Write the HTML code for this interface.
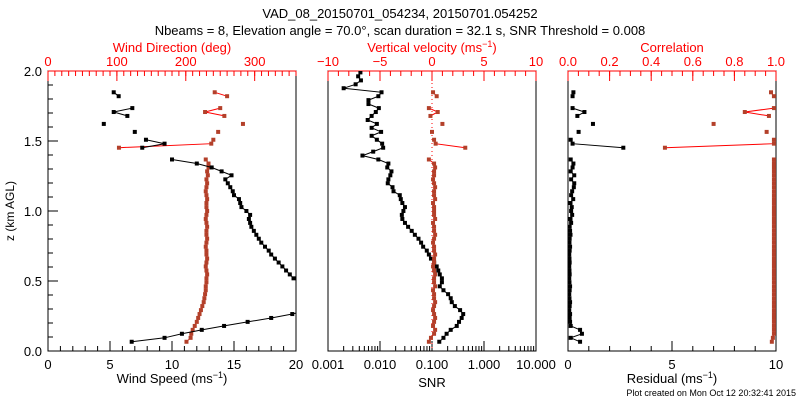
<!DOCTYPE html>
<html><head><meta charset="utf-8">
<style>
body{margin:0;background:#fff;}
svg{display:block;font-family:"Liberation Sans",sans-serif;}
</style></head>
<body>
<svg id="chart" width="800" height="400" viewBox="0 0 800 400" xmlns="http://www.w3.org/2000/svg">
<defs>
<clipPath id="c1"><rect x="48" y="71" width="248" height="280"/></clipPath>
<clipPath id="c2"><rect x="328" y="71" width="208" height="280"/></clipPath>
<clipPath id="c3"><rect x="568" y="71" width="208" height="280"/></clipPath>
</defs>
<text x="400" y="18" font-size="13" text-anchor="middle">VAD_08_20150701_054234, 20150701.054252</text>
<text x="400" y="35" font-size="13" text-anchor="middle">Nbeams = 8, Elevation angle = 70.0°, scan duration = 32.1 s, SNR Threshold = 0.008</text>
<text transform="translate(14,211) rotate(-90)" font-size="12" text-anchor="middle">z (km AGL)</text>
<text x="796" y="396" font-size="9" text-anchor="end">Plot created on Mon Oct 12 20:32:41 2015</text>
<g id="layer"></g>
</svg>
<script>
const heights=[0.066,0.094,0.123,0.151,0.179,0.208,0.236,0.264,0.292,0.321,0.349,0.377,0.406,0.434,0.462,0.491,0.519,0.547,0.575,0.604,0.632,0.660,0.689,0.717,0.745,0.774,0.802,0.830,0.858,0.887,0.915,0.943,0.972,1.000,1.028,1.057,1.085,1.113,1.141,1.170,1.198,1.226,1.255,1.283,1.311,1.339,1.368,1.396,1.424,1.452,1.481,1.509,1.537,1.565,1.594,1.622,1.650,1.679,1.707,1.735,1.764,1.792,1.820,1.848,1.877,1.905,1.933,1.962,1.990];
const N=null;
const windSpeed=[6.75,9.4,10.8,12.4,14.2,16.1,18.0,19.7,21,22,23,23.5,23.5,23,22,21,19.8,19.5,19.2,18.9,18.6,18.3,18.0,17.8,17.5,17.2,17.0,16.8,16.6,16.4,16.3,16.2,16.3,16.0,15.6,15.5,15.4,15.0,14.9,14.7,14.5,14.3,14.8,14.0,13.2,12.0,10.0,N,N,7.6,9.4,7.9,N,7.0,N,4.5,N,6.4,5.3,6.8,N,N,5.7,5.3,N,N,N,N,N];
const windDir=[201,207,208,210,213,216,218,220,222,224,226,227,228,229,229,230,230,231,230,229,230,231,230,230,229,230,231,230,230,231,230,229,230,231,230,230,231,230,229,230,231,230,232,231,233,233,229,N,N,103,237,240,N,247,N,283,N,256,228,250,N,N,260,242,N,N,N,N,N];
const snr=[0.138,0.166,0.191,0.229,0.299,0.331,0.372,0.398,0.347,0.275,0.240,0.229,0.204,0.166,0.141,0.155,0.155,0.141,0.132,0.123,0.110,0.0955,0.0871,0.0794,0.0676,0.0617,0.0550,0.0468,0.0407,0.0347,0.0302,0.0269,0.0263,0.0282,0.0302,0.0269,0.0251,0.0240,0.0182,0.0174,0.0141,0.0145,0.0158,0.0166,0.0138,0.0145,0.0093,0.0046,0.0074,0.0115,0.0110,0.0087,0.0069,0.0105,0.0069,0.0087,0.0058,0.0069,0.0083,0.0095,0.0060,0.0060,0.0093,0.0107,0.0020,0.0034,0.0043,0.0038,0.0042];
const wVel=[-0.3,-0.1,0.2,0.3,0.1,0.2,0.3,0.2,0.1,0.2,0.3,0.2,0.2,0.1,0.3,0.2,0.2,0.3,0.2,0.1,0.2,0.2,0.3,0.2,0.2,0.1,0.2,0.3,0.2,0.2,0.1,0.3,0.2,0.2,0.2,0.1,0.3,0.2,0.2,0.3,0.2,0.1,0.2,0.2,0.3,0.2,-0.3,N,N,3.2,0.35,0.2,N,0.0,N,1.0,N,-0.15,0.55,-0.3,N,N,0.45,0.1,N,N,N,N,N];
const residual=[0.58,0.13,0.67,0.58,0.13,0.1,0.08,0.1,0.06,0.08,0.1,0.07,0.06,0.08,0.1,0.07,0.06,0.08,0.07,0.06,0.08,0.07,0.06,0.08,0.1,0.07,0.08,0.12,0.1,0.08,0.15,0.12,0.2,0.15,0.18,0.12,0.25,0.15,0.2,0.28,0.3,0.15,0.3,0.13,0.22,0.26,0.13,N,N,2.66,0.22,0.13,N,0.51,N,1.2,N,0.45,0.79,0.22,N,N,0.22,0.26,N,N,N,N,N];
const correlation=[0.98,0.985,0.99,0.99,0.99,0.99,0.99,0.99,0.99,0.99,0.99,0.99,0.99,0.99,0.99,0.99,0.99,0.99,0.99,0.99,0.99,0.99,0.99,0.99,0.99,0.99,0.99,0.99,0.99,0.99,0.99,0.99,0.99,0.99,0.99,0.99,0.99,0.99,0.99,0.99,0.99,0.99,0.99,0.99,0.99,0.99,0.99,N,N,0.466,0.99,0.99,N,0.955,N,0.70,N,0.966,0.85,0.99,N,N,0.99,0.976,N,N,N,N,N];
const yTicks=["0.0","0.5","1.0","1.5","2.0"];

const NS="http://www.w3.org/2000/svg";
const layer=document.getElementById('layer');
const Y0=351,Y1=71;
function yS(z){return Y0-(z/2)*(Y0-Y1);}
function el(tag,attrs,parent){const e=document.createElementNS(NS,tag);for(const k in attrs)e.setAttribute(k,attrs[k]);(parent||layer).appendChild(e);return e;}

function frame(x0,x1,name){
  const r=el('rect',{x:x0,y:Y1,width:x1-x0,height:Y0-Y1,fill:'none',stroke:'#000','stroke-width':1});
  
  
}
function axisTicks(x0,x1,min,max,minorStep,majors,labels,side,color,scaleFn,name){
  const g=el('g',{});
  
  
  const y=side==='top'?Y1:Y0, dir=side==='top'?1:-1;
  if(side==='top')el('line',{x1:x0,x2:x1,y1:Y1,y2:Y1,stroke:color},g);
  for(let v=min;v<=max+1e-9;v+=minorStep){
    const x=scaleFn(v);
    el('line',{x1:x,x2:x,y1:y,y2:y+dir*5,stroke:color},g);
  }
  majors.forEach((v,i)=>{
    const x=scaleFn(v);
    el('line',{x1:x,x2:x,y1:y,y2:y+dir*10,stroke:color},g);
    const t=el('text',{x:x,y:side==='top'?Y1-5:Y0+18,'font-size':13,'text-anchor':'middle',fill:color},g);
    t.textContent=labels[i];
  });
}
function series(xs,vals,xFn,lineColor,markColor,clip,name){
  const g=el('g',{'clip-path':'url(#'+clip+')'});
  
  
  let seg=[];
  const flush=()=>{if(seg.length>1)el('polyline',{points:seg.join(' '),fill:'none',stroke:lineColor,'stroke-width':1},g);seg=[];};
  vals.forEach((v,i)=>{
    if(v===null){flush();return;}
    seg.push(xFn(v).toFixed(1)+','+yS(heights[i]).toFixed(1));
  });
  flush();
  vals.forEach((v,i)=>{
    if(v===null)return;
    const m=el('rect',{x:xFn(v)-2,y:yS(heights[i])-2,width:4,height:4,fill:markColor},g);
    
    
  });
}
const RED='#ff0000',BROWN='#b3402a';

// Panel 1
const sp=v=>48+v/20*248, dr=v=>48+v/360*248;
frame(48,296,'wind-panel');
// y axis ticks
(function(){
  const g=el('g',{});
  
  
  for(let k=0;k<=20;k++){const y=yS(k/10);el('line',{x1:48,x2:48+(k%5===0?10:5),y1:y,y2:y,stroke:'#000'},g);}
  yTicks.forEach(s=>{const t=el('text',{x:42,y:yS(parseFloat(s))+5,'font-size':13,'text-anchor':'end'},g);t.textContent=s;});
})();
axisTicks(48,296,0,20,1,[0,5,10,15,20],['0','5','10','15','20'],'bottom','#000',sp,'wind-speed-axis');
axisTicks(48,296,0,360,10,[0,100,200,300],['0','100','200','300'],'top',RED,dr,'wind-direction-axis');
series(heights,windDir,dr,RED,BROWN,'c1','wind-direction-series');
series(heights,windSpeed,sp,'#000','#000','c1','wind-speed-series');

// Panel 2
const sn=v=>328+(Math.log10(v)+3)*52, wv=v=>432+v*10.4;
frame(328,536,'snr-panel');
(function(){
  const g=el('g',{});
  
  
  for(let d=-3;d<1;d++)for(let m=2;m<=9;m++){const x=sn(m*Math.pow(10,d));el('line',{x1:x,x2:x,y1:Y0,y2:Y0-5,stroke:'#000'},g);}
  ['0.001','0.010','0.100','1.000','10.000'].forEach(s=>{const x=sn(parseFloat(s));el('line',{x1:x,x2:x,y1:Y0,y2:Y0-10,stroke:'#000'},g);const t=el('text',{x:x,y:Y0+18,'font-size':13,'text-anchor':'middle'},g);t.textContent=s;});
})();
axisTicks(328,536,-10,10,1,[-10,-5,0,5,10],['\u221210','\u22125','0','5','10'],'top',RED,wv,'vertical-velocity-axis');
el('line',{x1:432,x2:432,y1:Y1,y2:Y0,stroke:RED,'stroke-dasharray':'1,3'});
series(heights,snr,sn,'#000','#000','c2','snr-series');
series(heights,wVel,wv,RED,BROWN,'c2','vertical-velocity-series');

// Panel 3
const rs=v=>568+v*20.8, cr=v=>568+v*208;
frame(568,776,'residual-panel');
axisTicks(568,776,0,10,1,[0,5,10],['0','5','10'],'bottom','#000',rs,'residual-axis');
axisTicks(568,776,0,1,0.05,[0,0.2,0.4,0.6,0.8,1.0],['0.0','0.2','0.4','0.6','0.8','1.0'],'top',RED,cr,'correlation-axis');
series(heights,residual,rs,'#000','#000','c3','residual-series');
series(heights,correlation,cr,RED,BROWN,'c3','correlation-series');

// axis titles
[[172,48,'Wind Direction (deg)',RED,'wind-direction-title'],[672,48,'Correlation',RED,'correlation-title'],[432,383,'SNR','#000','snr-title']].forEach(a=>{
  const t=el('text',{x:a[0],y:a[1]+4,'font-size':13,'text-anchor':'middle',fill:a[3]});
  
  
  t.textContent=a[2];
});
function unitTitle(x,y,label,color,name){
  const t=el('text',{x:x,y:y+4,'font-size':13,'text-anchor':'middle',fill:color});
  
  
  t.appendChild(document.createTextNode(label+' (ms'));
  const s=el('tspan',{'font-size':9,dy:-5},t);s.textContent='\u22121';
  const e=el('tspan',{dy:5},t);e.textContent=')';
}
unitTitle(172,379,'Wind Speed','#000','wind-speed-title');
unitTitle(432,48,'Vertical velocity',RED,'vertical-velocity-title');
unitTitle(672,379,'Residual','#000','residual-title');
</script>
</body></html>
